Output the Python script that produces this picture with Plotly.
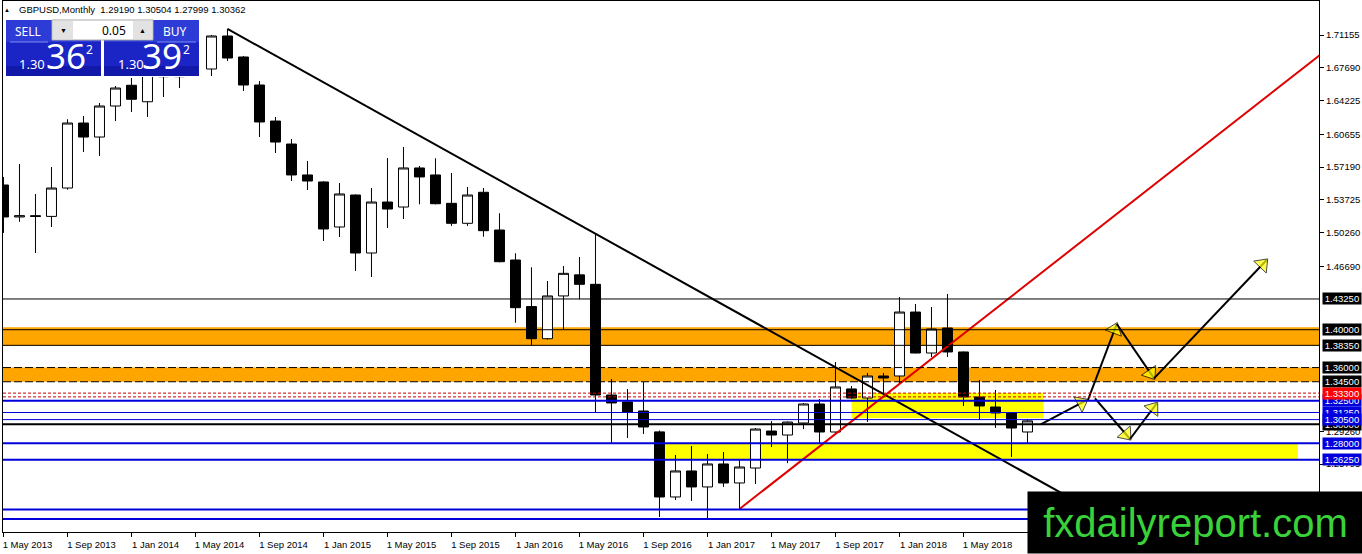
import math
import plotly.graph_objects as go

# ---- GBPUSD monthly bars, May 2013 .. Sep 2018 (bar index 0..64) ----
bar_month = [
    "2013-05", "2013-06", "2013-07", "2013-08", "2013-09", "2013-10", "2013-11", "2013-12",
    "2014-01", "2014-02", "2014-03", "2014-04", "2014-05", "2014-06", "2014-07", "2014-08",
    "2014-09", "2014-10", "2014-11", "2014-12", "2015-01", "2015-02", "2015-03", "2015-04",
    "2015-05", "2015-06", "2015-07", "2015-08", "2015-09", "2015-10", "2015-11", "2015-12",
    "2016-01", "2016-02", "2016-03", "2016-04", "2016-05", "2016-06", "2016-07", "2016-08",
    "2016-09", "2016-10", "2016-11", "2016-12", "2017-01", "2017-02", "2017-03", "2017-04",
    "2017-05", "2017-06", "2017-07", "2017-08", "2017-09", "2017-10", "2017-11", "2017-12",
    "2018-01", "2018-02", "2018-03", "2018-04", "2018-05", "2018-06", "2018-07", "2018-08",
    "2018-09",
]
bar_open = [
    1.5530, 1.5192, 1.5205, 1.5198, 1.5498, 1.6185, 1.6037, 1.6365,
    1.6584, 1.6410, 1.6749, 1.6675, 1.6880, 1.6756, 1.7105, 1.6883,
    1.6587, 1.6206, 1.5963, 1.5636, 1.5562, 1.5086, 1.5424, 1.4811,
    1.5350, 1.5297, 1.5710, 1.5636, 1.5336, 1.5125, 1.5453, 1.5054,
    1.4737, 1.4245, 1.3905, 1.4357, 1.4580, 1.4480, 1.3310, 1.3236,
    1.3141, 1.2920, 1.2232, 1.2507, 1.2338, 1.2581, 1.2380, 1.2538,
    1.2929, 1.2887, 1.3014, 1.3215, 1.2919, 1.3374, 1.3278, 1.3511,
    1.3511, 1.4187, 1.3754, 1.4018, 1.3765, 1.3289, 1.3183, 1.3120,
    1.29190,
]
bar_high = [
    1.5615, 1.5752, 1.5435, 1.5720, 1.6225, 1.6259, 1.6397, 1.6576,
    1.6661, 1.6823, 1.6822, 1.6905, 1.6996, 1.7116, 1.7180, 1.6894,
    1.6629, 1.6249, 1.6016, 1.5784, 1.5570, 1.5551, 1.5430, 1.5498,
    1.5815, 1.5932, 1.5731, 1.5812, 1.5657, 1.5509, 1.5498, 1.5231,
    1.4808, 1.4660, 1.4515, 1.4674, 1.4769, 1.5012, 1.3479, 1.3373,
    1.3447, 1.2935, 1.2676, 1.2771, 1.2686, 1.2707, 1.2623, 1.2961,
    1.3035, 1.3030, 1.3225, 1.3268, 1.3659, 1.3405, 1.3543, 1.3543,
    1.4346, 1.4272, 1.4240, 1.4378, 1.3770, 1.3469, 1.3363, 1.3125,
    1.30504,
]
bar_low = [
    1.5023, 1.5140, 1.4811, 1.5086, 1.5480, 1.5879, 1.5837, 1.6206,
    1.6302, 1.6249, 1.6460, 1.6555, 1.6692, 1.6682, 1.6841, 1.6524,
    1.6037, 1.5868, 1.5572, 1.5477, 1.4938, 1.4980, 1.4621, 1.4557,
    1.5075, 1.5170, 1.5326, 1.5325, 1.5097, 1.5097, 1.4983, 1.4712,
    1.4074, 1.3839, 1.3895, 1.4005, 1.4322, 1.3120, 1.2792, 1.2855,
    1.2898, 1.2020, 1.2200, 1.2190, 1.1999, 1.2338, 1.2105, 1.2369,
    1.2760, 1.2590, 1.2950, 1.2803, 1.2910, 1.3270, 1.3025, 1.3331,
    1.3437, 1.3750, 1.3712, 1.3712, 1.3194, 1.3046, 1.2961, 1.2655,
    1.27999,
]
bar_close = [
    1.5192, 1.5205, 1.5198, 1.5498, 1.6185, 1.6037, 1.6365, 1.6555,
    1.6436, 1.6749, 1.6675, 1.6880, 1.6756, 1.7105, 1.6872, 1.6587,
    1.6196, 1.5984, 1.5636, 1.5572, 1.5065, 1.5435, 1.4811, 1.5350,
    1.5276, 1.5710, 1.5615, 1.5332, 1.5125, 1.5424, 1.5047, 1.4719,
    1.4233, 1.3905, 1.4357, 1.4596, 1.4480, 1.3310, 1.3226, 1.3130,
    1.2972, 1.2232, 1.2507, 1.2338, 1.2581, 1.2380, 1.2549, 1.2950,
    1.2887, 1.3024, 1.3215, 1.2919, 1.3395, 1.3278, 1.3511, 1.3490,
    1.4187, 1.3754, 1.4008, 1.3765, 1.3289, 1.3194, 1.3120, 1.2961,
    1.30362,
]
ask_price = 1.30392

# ---- axis ticks ----
date_tick_pos = [0, 4, 8, 12, 16, 20, 24, 28, 32, 36, 40, 44, 48, 52, 56, 60]
date_tick_text = [
    "1 May 2013", "1 Sep 2013", "1 Jan 2014", "1 May 2014", "1 Sep 2014", "1 Jan 2015",
    "1 May 2015", "1 Sep 2015", "1 Jan 2016", "1 May 2016", "1 Sep 2016", "1 Jan 2017",
    "1 May 2017", "1 Sep 2017", "1 Jan 2018", "1 May 2018",
]
price_ticks = [1.71155, 1.67690, 1.64225, 1.60655, 1.57190, 1.53725, 1.50260,
               1.46690, 1.29260, 1.25795, 1.22330]

# ---- drawn objects ----
black_levels = [1.4325, 1.4000, 1.3835]
dashed_levels = [1.3600, 1.3450]
red_levels = [1.3330, 1.3290]
blue_thick_levels = [1.3250, 1.2800, 1.2625, 1.2100, 1.2000]
blue_thin_levels = [1.3125, 1.3050]
black_thick_levels = [1.3000]

orange_zones = [(1.4025, 1.3830), (1.3600, 1.3450)]
yellow_x0 = [53.0, 41.35]
yellow_x1 = [65.0, 80.9]
yellow_top = [1.3330, 1.2800]
yellow_bottom = [1.3065, 1.2625]

down_trend_x = [14.0, 68.5]
down_trend_y = [1.7180, 1.2050]
up_trend_x = [46.0, 82.5]
up_trend_y = [1.2105, 1.6933]

arrow_x0 = [64.83, 67.78, 69.58, 71.91, 68.22, 70.41]
arrow_y0 = [1.3000, 1.3257, 1.4061, 1.3486, 1.3275, 1.2845]
arrow_x1 = [67.70, 69.58, 71.91, 78.95, 70.41, 72.08]
arrow_y1 = [1.3257, 1.4061, 1.3486, 1.4737, 1.2845, 1.3222]

BLUE = "#0000dd"
FONT = "Liberation Sans"

X_RANGE = [-0.03, 82.22]
Y_RANGE = [1.18618, 1.74749]
PX_PER_BAR = 1316 / (X_RANGE[1] - X_RANGE[0])
PX_PER_PRICE = 531 / (Y_RANGE[1] - Y_RANGE[0])

# pixel -> paper helpers (plot area is x 3..1319, y 1..532)
def px2x(px):
    return (px - 3) / 1316

def py2y(py):
    return (532 - py) / 531

fig = go.Figure()

fig.add_trace(go.Candlestick(
    x=list(range(len(bar_month))),
    open=bar_open, high=bar_high, low=bar_low, close=bar_close,
    increasing=dict(line=dict(color="black", width=1), fillcolor="white"),
    decreasing=dict(line=dict(color="black", width=1), fillcolor="black"),
    whiskerwidth=0, hoverinfo="skip", showlegend=False,
))

fig.add_trace(go.Scatter(x=down_trend_x, y=down_trend_y, mode="lines",
                         line=dict(color="black", width=2), hoverinfo="skip", showlegend=False))
fig.add_trace(go.Scatter(x=up_trend_x, y=up_trend_y, mode="lines",
                         line=dict(color="#e00000", width=2), hoverinfo="skip", showlegend=False))

for x0, y0, x1, y1 in zip(arrow_x0, arrow_y0, arrow_x1, arrow_y1):
    # pull the head back so its tip sits on the end point
    dx = (x1 - x0) * PX_PER_BAR
    dy = (y1 - y0) * PX_PER_PRICE
    d = math.hypot(dx, dy)
    hx = x1 - (dx / d) * 6 / PX_PER_BAR
    hy = y1 - (dy / d) * 6 / PX_PER_PRICE
    fig.add_trace(go.Scatter(x=[x0, x1], y=[y0, y1], mode="lines",
                             line=dict(color="black", width=2),
                             hoverinfo="skip", showlegend=False))
    fig.add_trace(go.Scatter(
        x=[x0, hx], y=[y0, hy], mode="markers",
        marker=dict(symbol="triangle-up", size=[0, 15], color="#ffff00",
                    angleref="previous", line=dict(color="black", width=1)),
        hoverinfo="skip", showlegend=False, cliponaxis=False,
    ))

shapes = []
for top, bot in orange_zones:
    shapes.append(dict(type="rect", xref="paper", yref="y", x0=0, x1=1, y0=bot, y1=top,
                       fillcolor="#ffa500", line=dict(width=0), layer="below"))
for x0, x1, t, b in zip(yellow_x0, yellow_x1, yellow_top, yellow_bottom):
    shapes.append(dict(type="rect", xref="x", yref="y", x0=x0, x1=x1, y0=b, y1=t,
                       fillcolor="#ffff00", line=dict(width=0), layer="below"))

def hline(p, color, width, dash="solid"):
    shapes.append(dict(type="line", xref="paper", yref="y", x0=0, x1=1, y0=p, y1=p,
                       line=dict(color=color, width=width, dash=dash), layer="above"))

for p in black_levels:
    hline(p, "black", 1)
for p in dashed_levels:
    hline(p, "black", 1, "8px,3px")
for p in red_levels:
    hline(p, "#cc0000", 1, "3px,2px")
for p in blue_thick_levels:
    hline(p, BLUE, 2)
for p in blue_thin_levels:
    hline(p, BLUE, 1)
for p in black_thick_levels:
    hline(p, "black", 2)

# ---- one-click trading panel ----
def prect(x0, x1, y0, y1, fill, line_color=None):
    shapes.append(dict(type="rect", xref="paper", yref="paper",
                       x0=px2x(x0), x1=px2x(x1), y0=py2y(y1), y1=py2y(y0),
                       fillcolor=fill, layer="above",
                       line=dict(width=1 if line_color else 0, color=line_color or fill)))

prect(3.5, 201, 19, 77, "white")
for bx0, bx1 in [(6, 101), (104, 199)]:
    prect(bx0, bx1, 20, 76, "#1b24c4")
    prect(bx0, bx1, 20, 42, "#2d3cd6")
    prect(bx0, bx1, 66, 76, "#1218aa")
prect(52, 153, 20, 40, "white", "#a8a8a8")
prect(53, 73, 21, 39, "#e2e2e2")
prect(133, 152, 21, 39, "#e2e2e2")
for lx0, lx1 in [(10, 48), (157, 196)]:
    shapes.append(dict(type="line", xref="paper", yref="paper", x0=px2x(lx0), x1=px2x(lx1),
                       y0=py2y(42), y1=py2y(42), line=dict(color="#7d8cf0", width=1), layer="above"))

annotations = []

def ptext(px, py, text, size, color="white", anchor="center", family="Noto Sans"):
    annotations.append(dict(xref="paper", yref="paper", x=px2x(px), y=py2y(py), text=text,
                            showarrow=False, xanchor=anchor, yanchor="middle",
                            font=dict(size=size, color=color, family=family)))

ptext(28, 31, "SELL", 12)
ptext(175, 31, "BUY", 12)
ptext(128, 30, "0.05", 12, "black", "right")
ptext(63, 30, "▼", 7, "black")
ptext(142, 30, "▲", 7, "black")

bid_txt = f"{bar_close[-1]:.5f}"
ask_txt = f"{ask_price:.5f}"
for txt, x_small, x_big, x_sup in [(bid_txt, 32, 66, 89), (ask_txt, 131, 162, 186)]:
    ptext(x_small, 64, txt[:4], 13)
    ptext(x_big, 56, txt[4:6], 35)
    ptext(x_sup, 50, txt[6], 12)

# header
ptext(7, 10, "▲", 6, "black", family=FONT)
annotations.append(dict(
    xref="paper", yref="paper", x=px2x(17), y=py2y(10), xanchor="left", yanchor="middle",
    text=f"GBPUSD,Monthly  {bar_open[-1]:.5f} {bar_high[-1]:.5f} {bar_low[-1]:.5f} {bar_close[-1]:.5f}",
    showarrow=False, font=dict(size=9.5, color="black", family=FONT)))

# ---- boxed price labels on the right scale ----
label_order = [
    (1.4325, "black"), (1.4000, "black"), (1.3835, "black"), (1.3600, "black"),
    (1.3450, "black"), (1.3250, BLUE), (1.3330, "#ff0000"), (1.3125, BLUE),
    (1.3000, "black"), (1.3050, BLUE), (1.2800, BLUE), (1.2625, BLUE),
]
for p, col in label_order:
    annotations.append(dict(
        xref="paper", yref="y", x=px2x(1322), y=p, xanchor="left", yanchor="middle",
        text=f"{p:.5f}", showarrow=False, bgcolor=col, width=38, height=11, borderpad=0,
        font=dict(size=9.5, color="white", family=FONT)))

# watermark
annotations.append(dict(
    xref="paper", yref="paper", x=px2x(1027), y=py2y(554), xanchor="left", yanchor="bottom",
    text="fxdailyreport.com", showarrow=False, bgcolor="black", width=335, height=61,
    borderpad=0, font=dict(size=40, color="#3ad23a", family="Liberation Sans Narrow, Liberation Sans")))

fig.update_layout(
    width=1362, height=554,
    margin=dict(l=3, r=43, t=1, b=22, pad=0),
    paper_bgcolor="white", plot_bgcolor="white",
    boxgap=0.2, boxgroupgap=0.22,
    shapes=shapes, annotations=annotations,
    showlegend=False,
    xaxis=dict(
        range=X_RANGE, rangeslider=dict(visible=False),
        tickmode="array", tickvals=date_tick_pos, ticktext=date_tick_text,
        ticks="outside", ticklen=4, tickcolor="black", ticklabelshift=24,
        tickfont=dict(size=9.5, color="black", family=FONT),
        showgrid=False, zeroline=False, showline=True, linecolor="black", linewidth=1, mirror=True,
    ),
    yaxis=dict(
        range=Y_RANGE, side="right",
        tickmode="array", tickvals=price_ticks, ticktext=[f"{v:.5f}" for v in price_ticks],
        ticks="outside", ticklen=4, tickcolor="black",
        tickfont=dict(size=9.5, color="black", family=FONT),
        showgrid=False, zeroline=False, showline=True, linecolor="black", linewidth=1, mirror=True,
    ),
)

fig.write_html("out.html", config={"displayModeBar": False},
               post_script="document.body.style.margin='0px';")
